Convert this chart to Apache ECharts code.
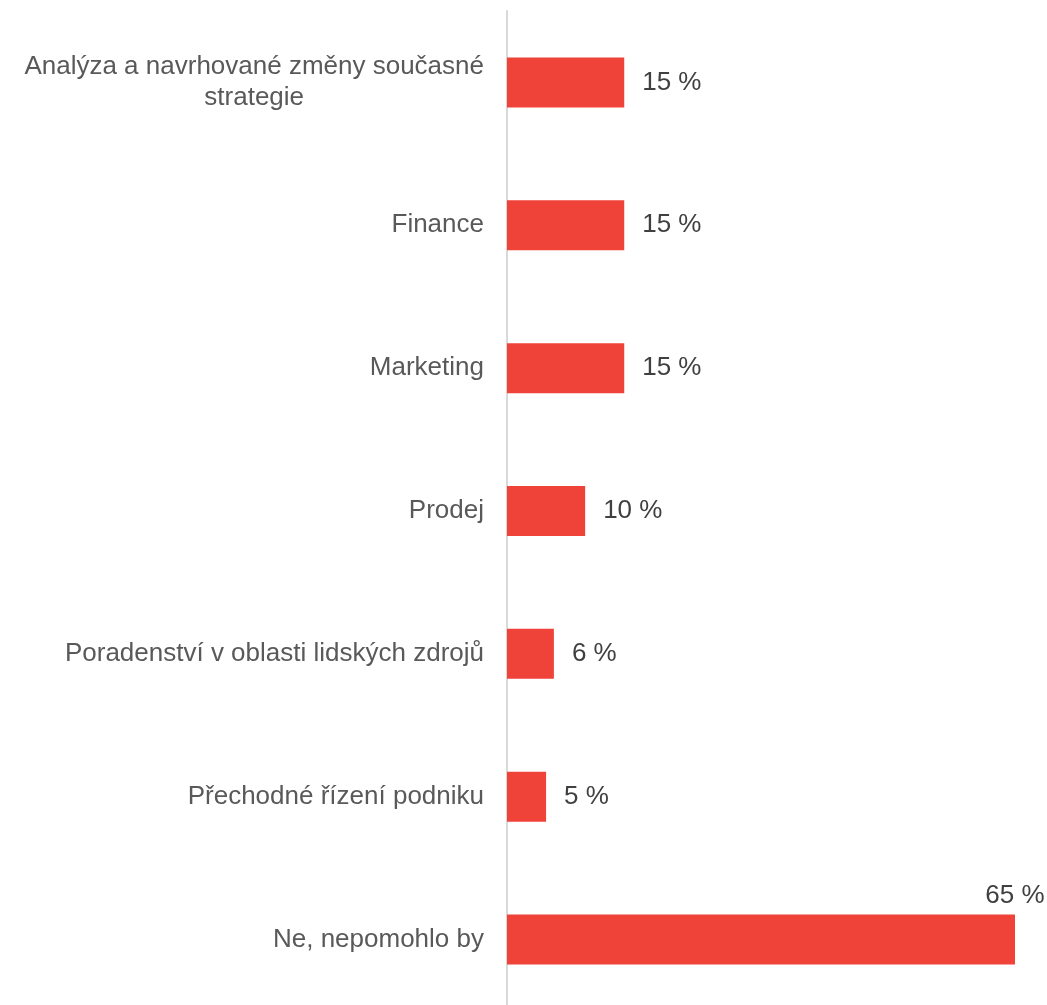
<!DOCTYPE html>
<html>
<head>
<meta charset="utf-8">
<script src="https://cdn.jsdelivr.net/npm/echarts@6/dist/echarts.min.js"></script>
<style>
  html, body { margin: 0; padding: 0; background: #fff; }
  #chart { width: 1047px; height: 1005px; }
</style>
</head>
<body>
<div id="chart"></div>
<script>
const categories = [
  'Analýza a navrhované změny současné\nstrategie',
  'Finance',
  'Marketing',
  'Prodej',
  'Poradenství v oblasti lidských zdrojů',
  'Přechodné řízení podniku',
  'Ne, nepomohlo by'
]
const values = [15, 15, 15, 10, 6, 5, 65]

const font = '"Liberation Sans", Arial, sans-serif'
const barColor = '#EF4238'

const seriesData = values.map(v => {
  if (v < 50) return v
  // long bar: label sits above its right end
  return {
    value: v,
    label: { position: ['100%', -6], align: 'center', verticalAlign: 'bottom', distance: 0 }
  }
})

const chart = echarts.init(document.getElementById('chart'))
chart.setOption({
  animation: false,
  grid: { left: 507, top: 11, width: 508, height: 1000, containLabel: false, outerBoundsMode: 'none' },
  xAxis: {
    type: 'value', min: 0, max: 65, show: false
  },
  yAxis: {
    type: 'category',
    inverse: true,
    data: categories,
    axisLine: { show: true, lineStyle: { color: '#D9D9D9', width: 2 } },
    axisTick: { show: false },
    axisLabel: {
      margin: 23,
      color: '#595959',
      fontFamily: font,
      fontSize: 26,
      lineHeight: 31,
      formatter: s => s.split('\n').map(l => '{c|' + l + '}').join('\n'),
      rich: { c: { align: 'center', color: '#595959', fontFamily: font, fontSize: 26, lineHeight: 31 } }
    }
  },
  series: [{
    type: 'bar',
    data: seriesData,
    barCategoryGap: '65%',
    itemStyle: { color: barColor },
    label: {
      show: true,
      position: 'right',
      distance: 18,
      formatter: '{c} %',
      color: '#404040',
      fontFamily: font,
      fontSize: 26
    }
  }]
})
</script>
</body>
</html>
